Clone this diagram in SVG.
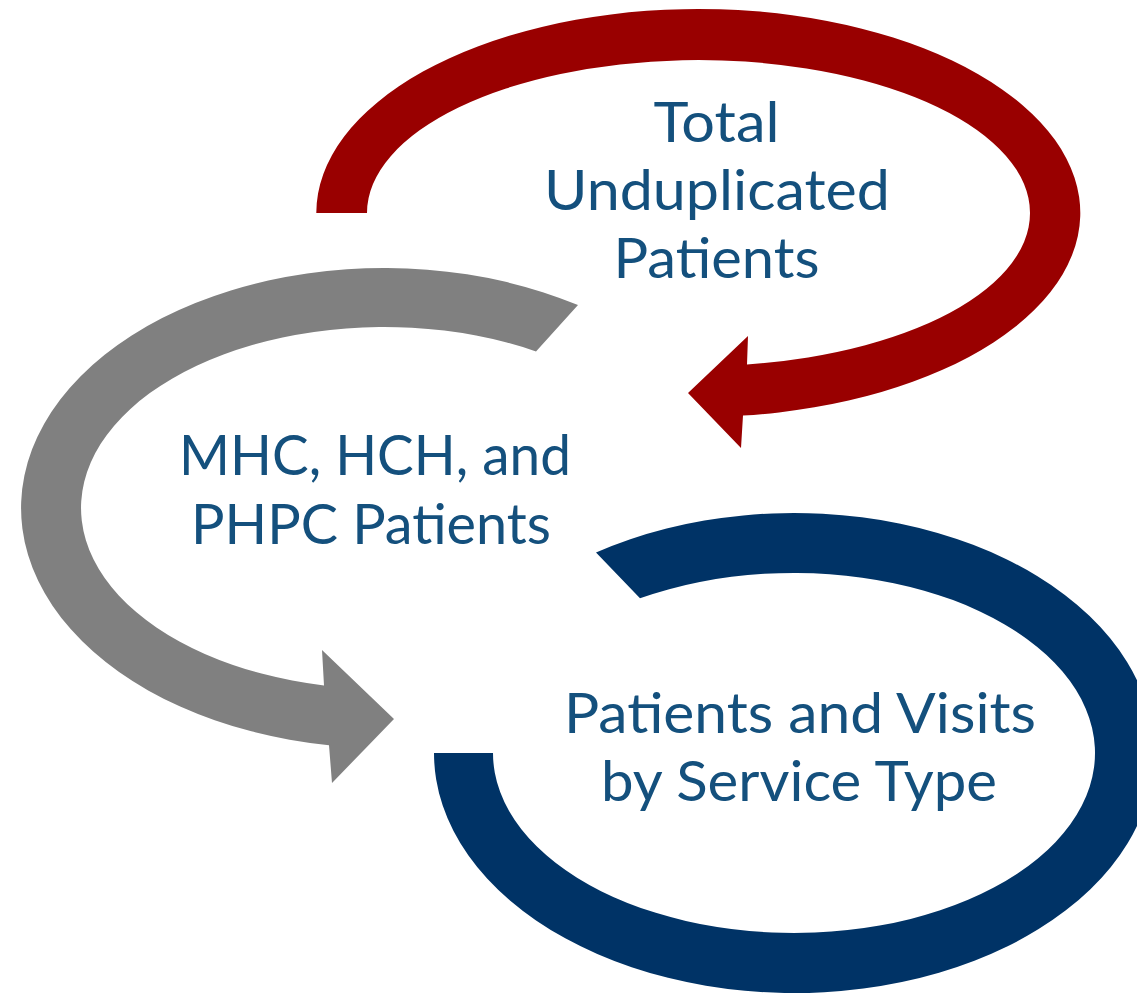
<svg xmlns="http://www.w3.org/2000/svg" width="1137" height="995" viewBox="0 0 1137 995">
  <style>
    .lbl { font-family: Lato, "Open Sans", "Liberation Sans", sans-serif; font-size: 55.5px; fill: #14507D; text-anchor: middle; }
    .red { fill: #990000; }
    .gray { fill: #808080; }
    .blue { fill: #003366; }
  </style>
  <rect width="1137" height="995" fill="#ffffff"/>
  <g id="connectors">
    <path id="arrow-red" class="red" d="M316.3,213 A382,204 0 1 1 743,415.6 L741,448 L688,393 L748,336 L747,364.4 A331.5,153 0 1 0 367,213 Z"/>
    <path id="arrow-gray" class="gray" d="M578,305.1 A363,240 0 1 0 329,745.2 L332,783 L394,719 L322,650 L324,685.4 A303,181 0 1 1 536,351.4 Z"/>
    <path id="arrow-blue" class="blue" d="M434,753 A360,240 0 1 0 596,552.6 L640,598.3 A301,180 0 1 1 493,753 Z"/>
  </g>
  <g id="node-total">
    <text class="lbl" x="716.5" y="142" textLength="126" lengthAdjust="spacingAndGlyphs">Total</text>
    <text class="lbl" x="717" y="210" textLength="346" lengthAdjust="spacingAndGlyphs">Unduplicated</text>
    <text class="lbl" x="716.5" y="277.5" textLength="206" lengthAdjust="spacingAndGlyphs">Patients</text>
  </g>
  <g id="node-mhc">
    <text class="lbl" x="375" y="475" textLength="392" lengthAdjust="spacingAndGlyphs">MHC, HCH, and</text>
    <text class="lbl" x="371" y="544" textLength="360" lengthAdjust="spacingAndGlyphs">PHPC Patients</text>
  </g>
  <g id="node-service">
    <text class="lbl" x="800" y="733" textLength="472" lengthAdjust="spacingAndGlyphs">Patients and Visits</text>
    <text class="lbl" x="799" y="801" textLength="396" lengthAdjust="spacingAndGlyphs">by Service Type</text>
  </g>
</svg>
